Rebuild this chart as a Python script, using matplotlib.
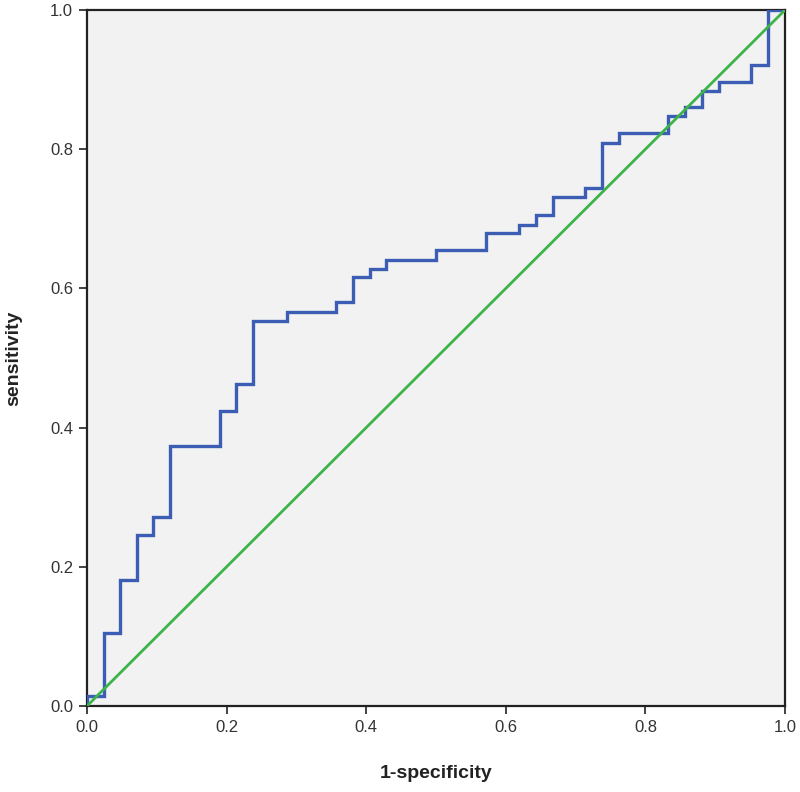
import matplotlib
matplotlib.use("Agg")
import matplotlib.pyplot as plt

plt.rcParams['font.family'] = ['Liberation Sans', 'DejaVu Sans']

# ROC step points: false positive rate where each vertical jump occurs, and the sensitivity after the jump
fpr = [0.0, 0.0, 0.0238, 0.0476, 0.0714, 0.0952, 0.119, 0.190, 0.214, 0.238, 0.286,
       0.357, 0.381, 0.405, 0.429, 0.500, 0.571, 0.619, 0.643, 0.667, 0.714,
       0.738, 0.762, 0.833, 0.857, 0.881, 0.905, 0.952, 0.976, 1.0]
tpr = [0.0, 0.015, 0.105, 0.181, 0.246, 0.271, 0.374, 0.424, 0.463, 0.553, 0.566,
       0.580, 0.616, 0.628, 0.641, 0.655, 0.679, 0.691, 0.705, 0.731, 0.744,
       0.809, 0.823, 0.847, 0.860, 0.884, 0.897, 0.921, 1.0, 1.0]
ref_x = [0.0, 1.0]
ref_y = [0.0, 1.0]
ticks = [0.0, 0.2, 0.4, 0.6, 0.8, 1.0]
tick_labels = ["0.0", "0.2", "0.4", "0.6", "0.8", "1.0"]

fig = plt.figure(figsize=(8, 7.92), dpi=100)
ax = fig.add_axes([87/800, 86/792, 698/800, 696/792])
ax.set_facecolor('#f2f2f2')

ax.step(fpr, tpr, where='post', color='#3b5db3', lw=2.4, solid_joinstyle='miter', zorder=3)
ax.plot(ref_x, ref_y, color='#3cb44a', lw=2.0, zorder=4)

ax.set_xlim(0, 1)
ax.set_ylim(0, 1)
ax.set_xticks(ticks)
ax.set_xticklabels(tick_labels)
ax.set_yticks(ticks)
ax.set_yticklabels(tick_labels)
ax.tick_params(direction='out', length=6, width=1.2, color='#222222',
               labelsize=12, labelcolor='#333333', pad=4)
for s in ax.spines.values():
    s.set_linewidth(1.6)
    s.set_color('#222222')

ax.set_xlabel('1-specificity', fontsize=14, fontweight='bold', labelpad=22, color='#222222')
ax.set_ylabel('sensitivity', fontsize=14, fontweight='bold', labelpad=20, color='#222222')

fig.savefig('out.png', dpi=100, facecolor='white')
